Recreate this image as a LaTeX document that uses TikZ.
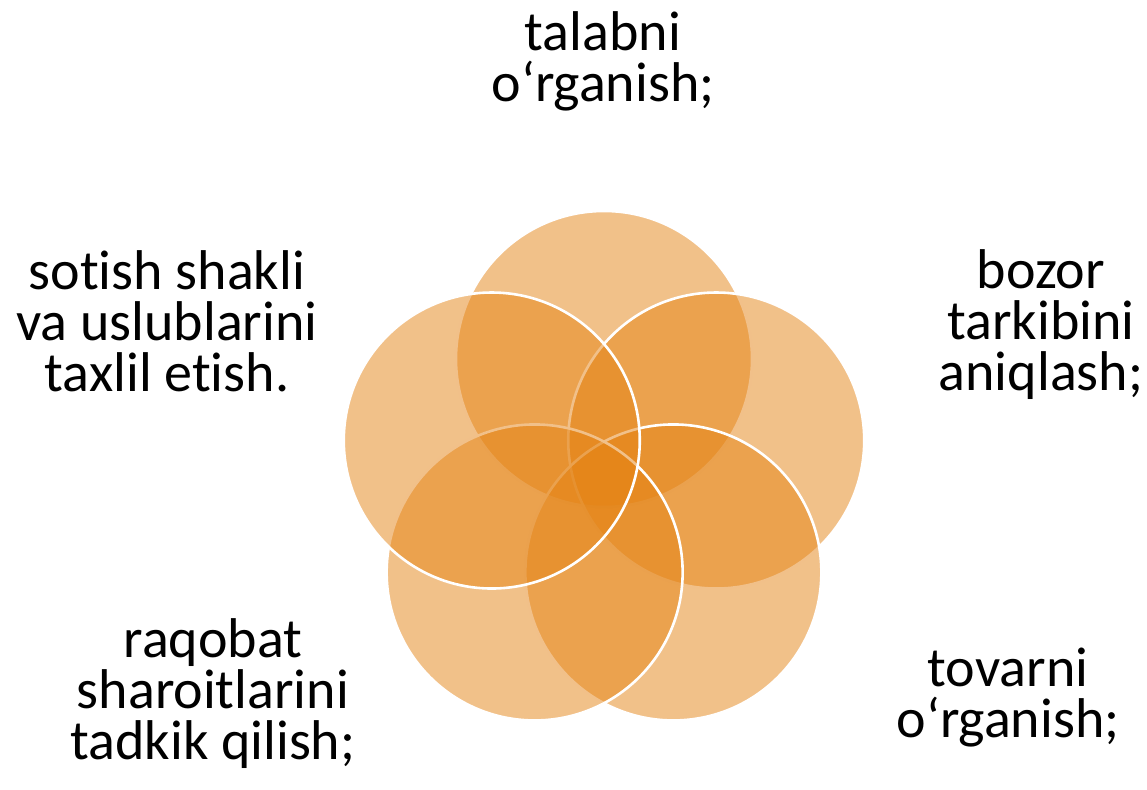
\documentclass[tikz,border=0pt]{standalone}
\usepackage{fontspec}
\setmainfont{Carlito}[Ligatures=NoCommon]
\usetikzlibrary{calc}
\definecolor{vennorange}{RGB}{228,131,20}
\begin{document}
\begin{tikzpicture}[
    x=0.5pt,
    y=0.5pt,
    venn/.style={
        circle,
        draw=white,
        line width=1.3pt,
        fill=vennorange,
        fill opacity=0.5,
        minimum size=148pt,
        inner sep=0pt
    },
    lbltext/.style={
        align=center,
        anchor=base,
        inner sep=0pt,
        font=\fontsize{28pt}{25.5pt}\selectfont
    }
]

\useasboundingbox (0,0) rectangle (1147,790);
\coordinate (O) at (604,313);

% --- Venn circles (clockwise from the top) ---
\node[venn] (talab) at ($(O)+(90:118)$) {};
\node[venn] (bozor) at ($(O)+(18:118)$) {};
\node[venn] (tovar) at ($(O)+(-54:118)$) {};
\node[venn] (raqob) at ($(O)+(-126:118)$) {};
\node[venn] (sotish) at ($(O)+(162:118)$) {};

% --- Labels round the circles (anchored on the last line) ---
\node[lbltext] (talabT) at (603,688) {talabni\\o‘rganish;};
\node[lbltext] (bozorT) at (1041,399) {bozor\\tarkibini\\aniqlash;};
\node[lbltext] (tovarT) at (1008,52) {tovarni\\o‘rganish;};
\node[lbltext] (raqobT) at (213,30) {raqobat\\sharoitlarini\\tadkik qilish;};
\node[lbltext] (sotishT) at (167,398) {sotish shakli\\va uslublarini\\taxlil etish.};

\end{tikzpicture}
\end{document}
